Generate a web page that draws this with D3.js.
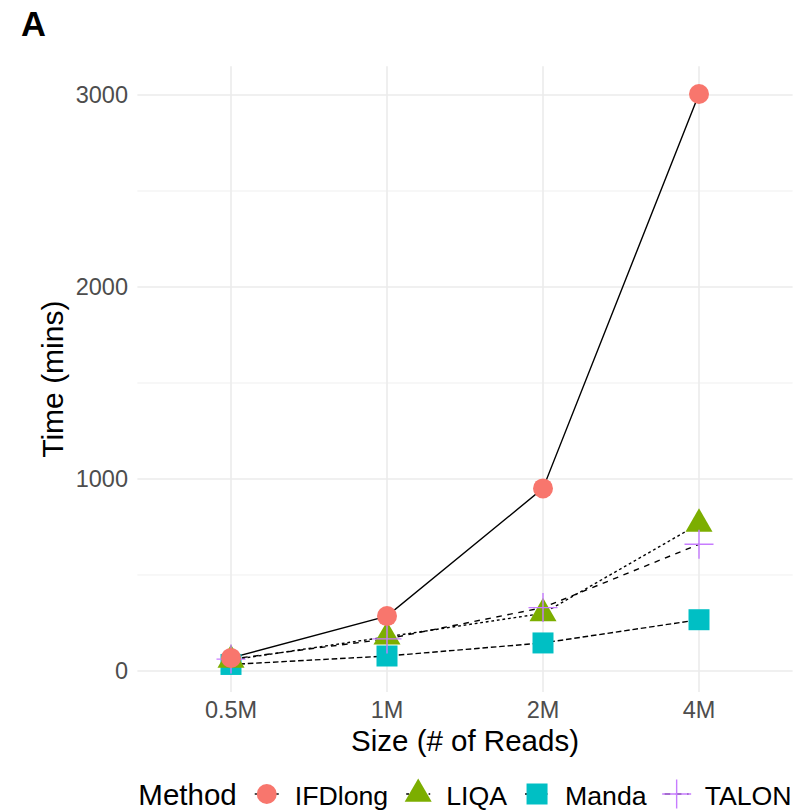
<!DOCTYPE html>
<html>
<head>
<meta charset="utf-8">
<script src="https://cdn.jsdelivr.net/npm/d3@7"></script>
<style>
  body { margin: 0; background: #fff; }
  text { font-family: "Liberation Sans", Arial, sans-serif; }
</style>
</head>
<body>
<svg width="798" height="812"></svg>
<script>
// data
var sizes = ["0.5M", "1M", "2M", "4M"];
var methods = ["IFDlong", "LIQA", "Manda", "TALON"];
var ifdlong = [68, 286, 951, 3005];
var liqa = [57, 178, 300, 766];
var manda = [34, 78, 146, 267];
var talon = [62, 167, 330, 660];
var yTicks = [0, 1000, 2000, 3000];
var yMinor = [500, 1500, 2500];

var series = [
  {name: "IFDlong", values: ifdlong, color: "#F8766D", dash: null,      shape: "circle"},
  {name: "LIQA",    values: liqa,    color: "#7CAE00", dash: "2.8,2.8", shape: "triangle"},
  {name: "Manda",   values: manda,   color: "#00BFC4", dash: "5.6,2.8", shape: "square"},
  {name: "TALON",   values: talon,   color: "#C77CFF", dash: "5.6,5.6", shape: "plus"}
];

var svg = d3.select("svg"),
    panel = {left: 137.4, right: 792.6, top: 66.2, bottom: 692.1};

var x = d3.scalePoint()
    .domain(sizes)
    .range([panel.left, panel.right])
    .padding(0.6);
var y = d3.scaleLinear()
    .domain([-110, 3150])
    .range([panel.bottom, panel.top]);

function shapePath(shape) {
  if (shape == "circle") return d3.symbol(d3.symbolCircle, 314)();
  if (shape == "square") return d3.symbol(d3.symbolSquare, 441)();
  if (shape == "triangle") return d3.symbol(d3.symbolTriangle, 316)();
  return "M-14.5,0H14.5M0,-14.5V14.5";
}
function drawShape(sel, s) {
  sel.attr("d", shapePath(s.shape));
  if (s.shape == "plus") sel.attr("fill", "none").attr("stroke", s.color).attr("stroke-width", 1.4);
  else sel.attr("fill", s.color);
}

// grid
var grid = svg.append("g");
grid.selectAll(".minor").data(yMinor).enter().append("line")
    .attr("x1", panel.left).attr("x2", panel.right)
    .attr("y1", function(d) { return y(d); }).attr("y2", function(d) { return y(d); })
    .attr("stroke", "#EBEBEB").attr("stroke-width", 0.8);
grid.selectAll(".major").data(yTicks).enter().append("line")
    .attr("x1", panel.left).attr("x2", panel.right)
    .attr("y1", function(d) { return y(d); }).attr("y2", function(d) { return y(d); })
    .attr("stroke", "#EBEBEB").attr("stroke-width", 1.6);
grid.selectAll(".vert").data(sizes).enter().append("line")
    .attr("y1", panel.top).attr("y2", panel.bottom)
    .attr("x1", function(d) { return x(d); }).attr("x2", function(d) { return x(d); })
    .attr("stroke", "#EBEBEB").attr("stroke-width", 1.6);

// axes text
svg.append("g").selectAll("text").data(yTicks).enter().append("text")
    .attr("x", 128).attr("y", function(d) { return y(d); })
    .attr("dy", "0.36em")
    .attr("text-anchor", "end")
    .attr("font-size", 23.5).attr("fill", "#4D4D4D")
    .text(function(d) { return d; });
svg.append("g").selectAll("text").data(sizes).enter().append("text")
    .attr("x", function(d) { return x(d); }).attr("y", 718)
    .attr("text-anchor", "middle")
    .attr("font-size", 23.5).attr("fill", "#4D4D4D")
    .text(function(d) { return d; });

svg.append("text")
    .attr("x", (panel.left + panel.right) / 2).attr("y", 751)
    .attr("text-anchor", "middle").attr("font-size", 29.5)
    .text("Size (# of Reads)");
svg.append("text")
    .attr("transform", "translate(63," + (panel.top + panel.bottom) / 2 + ") rotate(-90)")
    .attr("text-anchor", "middle").attr("font-size", 30)
    .text("Time (mins)");
svg.append("text")
    .attr("x", 21).attr("y", 36)
    .attr("font-size", 34.5).attr("font-weight", "bold")
    .text("A");

// lines
var line = d3.line()
    .x(function(d, i) { return x(sizes[i]); })
    .y(function(d) { return y(d); });
svg.append("g").selectAll("path").data(series).enter().append("path")
    .attr("d", function(s) { return line(s.values); })
    .attr("fill", "none").attr("stroke", "#000").attr("stroke-width", 1.4)
    .attr("stroke-dasharray", function(s) { return s.dash; });

// points (drawn Manda, LIQA, TALON, IFDlong)
var order = [2, 1, 3, 0];
order.forEach(function(k) {
  var s = series[k];
  svg.append("g").selectAll("path").data(s.values).enter().append("path")
      .attr("transform", function(d, i) { return "translate(" + x(sizes[i]) + "," + y(d) + ")"; })
      .call(drawShape, s);
});

// legend
var legend = svg.append("g"), ly = 805, pos = 0;
var title = legend.append("text").attr("x", 0).attr("y", ly).attr("font-size", 29.5).text("Method");
pos = title.node().getComputedTextLength();
series.forEach(function(s) {
  var kx = pos + 30;
  legend.append("line")
      .attr("x1", kx - 12).attr("x2", kx + 12).attr("y1", ly - 11).attr("y2", ly - 11)
      .attr("stroke", "#000").attr("stroke-width", 1.4)
      .attr("stroke-dasharray", s.dash);
  legend.append("path")
      .attr("transform", "translate(" + kx + "," + (ly - 11) + ")")
      .call(drawShape, s);
  var t = legend.append("text").attr("x", kx + 28).attr("y", ly)
      .attr("font-size", 26.7).text(s.name);
  pos = kx + 28 + t.node().getComputedTextLength();
});
legend.attr("transform", "translate(" + ((panel.left + panel.right) / 2 - pos / 2) + ",0)");
</script>
</body>
</html>
